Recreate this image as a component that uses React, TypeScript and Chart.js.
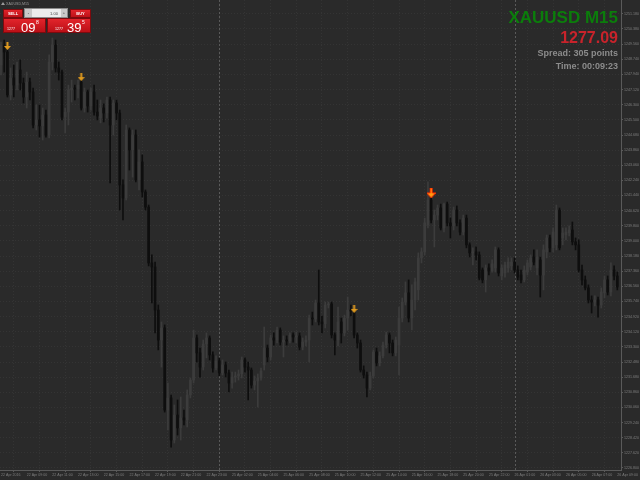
import React, { useEffect, useRef } from "react";
import { Chart, registerables } from "chart.js";

Chart.register(...registerables);

// ---- Data (XAUUSD M15, 193 bars from 22 Apr 07:00 to 26 Apr 09:00) ----
const opens = [
  1248.44, 1249.51, 1249.14, 1246.83, 1247.74, 1247.36, 1248.17, 1247.47, 1246.72, 1247.52,
  1246.99, 1245.22, 1245.49, 1245.17, 1245.75, 1244.68, 1248.60, 1249.51, 1248.28, 1248.06,
  1245.64, 1245.91, 1247.10, 1247.20, 1247.15, 1247.52, 1246.13, 1246.99, 1246.24, 1246.99,
  1245.91, 1245.59, 1246.13, 1245.86, 1246.56, 1245.22, 1246.40, 1245.86, 1242.00, 1241.30,
  1244.95, 1243.88, 1244.68, 1242.27, 1243.23, 1241.62, 1240.81, 1237.81, 1237.59, 1235.28,
  1233.67, 1234.32, 1229.91, 1230.56, 1228.30, 1229.64, 1228.95, 1229.48, 1229.38, 1230.72,
  1231.52, 1233.78, 1232.98, 1232.22, 1233.46, 1233.78, 1232.87, 1232.17, 1232.55, 1231.90,
  1232.33, 1231.90, 1231.36, 1231.68, 1231.74, 1231.85, 1232.60, 1232.22, 1232.06, 1231.25,
  1231.47, 1231.63, 1232.33, 1233.24, 1232.76, 1233.78, 1233.67, 1234.21, 1233.56, 1233.67,
  1233.62, 1233.94, 1233.83, 1233.89, 1233.29, 1233.56, 1233.67, 1234.85, 1234.80, 1235.66,
  1234.64, 1234.54, 1235.55, 1235.61, 1233.94, 1233.67, 1234.64, 1234.05, 1234.85, 1235.28,
  1235.17, 1233.94, 1233.51, 1232.06, 1231.79, 1231.09, 1231.74, 1233.03, 1232.44, 1232.82,
  1233.40, 1233.94, 1233.51, 1232.98, 1233.40, 1234.85, 1235.71, 1236.20, 1234.85, 1235.82,
  1236.36, 1238.08, 1238.40, 1239.85, 1241.19, 1240.12, 1240.38, 1240.76, 1239.69, 1240.97,
  1239.96, 1239.80, 1240.65, 1239.96, 1239.47, 1240.22, 1238.78, 1238.35, 1238.40, 1238.24,
  1237.43, 1236.90, 1237.54, 1237.38, 1237.54, 1238.51, 1237.11, 1237.27, 1237.54, 1237.65,
  1237.86, 1237.43, 1237.16, 1236.90, 1237.32, 1237.59, 1238.13, 1237.54, 1237.97, 1237.16,
  1238.40, 1239.15, 1238.62, 1238.78, 1240.65, 1239.15, 1239.31, 1239.42, 1239.58, 1238.94,
  1238.78, 1237.43, 1236.90, 1236.47, 1235.82, 1235.71, 1235.82, 1235.55, 1236.20, 1236.90,
  1236.25, 1237.43, 1237.11,
];
const highs = [
  1249.67, 1249.78, 1249.25, 1248.28, 1248.44, 1248.60, 1248.71, 1247.74, 1248.06, 1247.74,
  1247.20, 1246.29, 1246.29, 1246.13, 1246.02, 1248.98, 1249.89, 1249.78, 1248.60, 1248.17,
  1246.13, 1247.36, 1247.63, 1247.36, 1247.63, 1247.63, 1247.20, 1247.10, 1247.20, 1247.36,
  1246.56, 1246.56, 1246.35, 1246.72, 1246.72, 1246.56, 1246.56, 1246.02, 1242.27, 1245.22,
  1245.06, 1244.95, 1244.95, 1243.88, 1243.61, 1241.73, 1240.92, 1238.24, 1237.86, 1235.55,
  1234.64, 1234.48, 1231.36, 1230.72, 1230.18, 1230.45, 1230.61, 1229.91, 1230.99, 1231.63,
  1234.21, 1233.94, 1233.24, 1233.67, 1234.05, 1233.89, 1233.03, 1232.82, 1232.71, 1232.60,
  1232.49, 1232.06, 1231.95, 1231.95, 1232.06, 1232.76, 1232.71, 1232.49, 1232.17, 1231.74,
  1231.85, 1232.17, 1234.37, 1233.40, 1233.94, 1234.05, 1234.37, 1234.32, 1233.89, 1233.89,
  1234.05, 1234.05, 1234.10, 1234.05, 1233.78, 1233.89, 1235.01, 1235.17, 1235.82, 1237.43,
  1234.96, 1235.71, 1235.71, 1235.71, 1234.05, 1235.44, 1234.85, 1235.01, 1235.98, 1235.55,
  1235.20, 1234.05, 1233.67, 1232.28, 1231.95, 1231.95, 1233.14, 1233.24, 1233.03, 1233.56,
  1234.10, 1234.05, 1233.67, 1233.83, 1235.44, 1235.93, 1236.79, 1236.90, 1236.63, 1237.00,
  1238.35, 1238.62, 1240.22, 1242.16, 1241.30, 1240.65, 1240.92, 1240.97, 1241.03, 1241.08,
  1240.22, 1240.81, 1240.87, 1240.12, 1240.38, 1240.38, 1238.89, 1238.62, 1238.67, 1238.40,
  1237.54, 1237.70, 1237.76, 1237.97, 1238.67, 1238.62, 1237.70, 1237.86, 1238.08, 1238.08,
  1238.08, 1237.65, 1237.43, 1237.65, 1237.97, 1238.24, 1238.51, 1238.51, 1238.13, 1238.78,
  1239.31, 1239.31, 1239.69, 1240.92, 1240.76, 1239.69, 1239.69, 1239.80, 1240.01, 1239.15,
  1239.05, 1237.70, 1237.11, 1236.63, 1236.04, 1236.04, 1235.98, 1236.47, 1237.11, 1237.11,
  1237.81, 1237.65, 1237.32,
];
const lows = [
  1247.90, 1248.06, 1246.72, 1246.56, 1246.72, 1247.10, 1247.10, 1246.40, 1246.13, 1246.56,
  1245.06, 1244.95, 1244.57, 1244.41, 1244.57, 1244.52, 1248.17, 1248.06, 1247.63, 1245.49,
  1244.79, 1245.22, 1246.45, 1246.56, 1246.67, 1246.02, 1245.91, 1245.91, 1246.02, 1245.75,
  1245.49, 1245.33, 1245.38, 1245.59, 1242.11, 1244.68, 1245.49, 1240.65, 1240.12, 1241.19,
  1242.80, 1242.42, 1242.16, 1241.73, 1241.35, 1240.65, 1237.65, 1235.66, 1234.05, 1233.14,
  1232.22, 1229.80, 1228.84, 1227.92, 1228.14, 1228.57, 1228.30, 1229.11, 1229.00, 1230.56,
  1231.36, 1232.49, 1231.68, 1232.06, 1232.71, 1232.60, 1231.95, 1232.06, 1231.74, 1231.79,
  1231.68, 1230.88, 1231.09, 1231.41, 1231.52, 1231.63, 1231.95, 1230.45, 1231.09, 1230.99,
  1230.07, 1231.52, 1232.06, 1232.49, 1232.60, 1233.40, 1233.51, 1233.40, 1232.76, 1233.40,
  1233.51, 1233.56, 1233.51, 1233.14, 1233.14, 1233.35, 1232.49, 1234.48, 1234.64, 1234.48,
  1234.05, 1234.32, 1235.39, 1233.78, 1232.87, 1233.35, 1233.51, 1233.89, 1234.21, 1234.96,
  1233.78, 1233.24, 1231.95, 1231.63, 1230.61, 1230.99, 1231.63, 1232.28, 1232.28, 1232.71,
  1233.24, 1232.98, 1232.82, 1232.82, 1231.79, 1234.64, 1235.55, 1234.64, 1234.21, 1235.28,
  1235.82, 1237.81, 1238.24, 1239.69, 1239.96, 1238.67, 1240.12, 1239.58, 1239.47, 1239.80,
  1239.15, 1239.58, 1239.80, 1239.31, 1239.31, 1238.62, 1238.13, 1237.70, 1237.97, 1236.90,
  1236.74, 1236.25, 1237.16, 1237.32, 1237.32, 1237.11, 1236.90, 1237.05, 1237.32, 1237.43,
  1237.27, 1236.90, 1236.74, 1236.79, 1237.16, 1237.43, 1237.70, 1237.16, 1235.98, 1236.36,
  1238.08, 1238.40, 1238.40, 1238.51, 1238.51, 1238.78, 1239.05, 1239.26, 1238.78, 1238.51,
  1237.32, 1236.63, 1236.36, 1235.66, 1235.12, 1235.50, 1234.90, 1235.39, 1235.93, 1236.09,
  1236.04, 1236.90, 1236.36,
];
const closes = [
  1249.51, 1249.14, 1246.83, 1247.74, 1247.36, 1248.17, 1247.47, 1246.72, 1247.52, 1246.99,
  1245.22, 1245.49, 1245.17, 1245.75, 1244.68, 1248.60, 1249.51, 1248.28, 1248.06, 1245.64,
  1245.91, 1247.10, 1247.20, 1247.15, 1247.36, 1246.13, 1246.99, 1246.24, 1246.99, 1245.91,
  1245.70, 1246.13, 1245.86, 1246.56, 1245.22, 1246.40, 1245.86, 1242.00, 1241.30, 1244.95,
  1243.88, 1244.68, 1242.27, 1243.23, 1241.62, 1240.81, 1237.81, 1237.59, 1235.28, 1233.67,
  1234.32, 1229.91, 1230.56, 1228.30, 1229.64, 1228.95, 1229.48, 1229.38, 1230.72, 1231.52,
  1233.78, 1232.98, 1232.22, 1233.46, 1233.78, 1232.87, 1232.17, 1232.55, 1231.90, 1232.33,
  1231.90, 1231.36, 1231.68, 1231.74, 1231.85, 1232.60, 1232.22, 1232.06, 1231.25, 1231.47,
  1231.63, 1232.01, 1233.24, 1232.76, 1233.78, 1233.67, 1234.21, 1233.56, 1233.67, 1233.62,
  1233.94, 1233.83, 1233.89, 1233.29, 1233.56, 1233.67, 1234.85, 1234.80, 1235.66, 1234.64,
  1234.54, 1235.55, 1235.61, 1233.94, 1233.67, 1234.64, 1234.05, 1234.85, 1235.28, 1235.23,
  1233.94, 1233.51, 1232.06, 1231.79, 1231.09, 1231.74, 1233.03, 1232.44, 1232.82, 1233.40,
  1233.94, 1233.51, 1232.98, 1233.67, 1234.85, 1235.71, 1236.20, 1234.85, 1235.82, 1236.79,
  1238.08, 1238.40, 1239.96, 1241.19, 1240.12, 1240.38, 1240.76, 1239.69, 1240.97, 1239.96,
  1239.80, 1240.65, 1239.96, 1239.47, 1240.22, 1238.78, 1238.35, 1238.40, 1238.24, 1237.00,
  1236.90, 1237.54, 1237.38, 1237.76, 1238.51, 1237.27, 1237.54, 1237.70, 1237.86, 1237.86,
  1237.43, 1237.05, 1236.90, 1237.43, 1237.81, 1238.08, 1237.86, 1238.13, 1237.16, 1238.51,
  1239.15, 1238.62, 1239.47, 1240.65, 1238.62, 1239.42, 1239.47, 1239.58, 1238.94, 1238.78,
  1237.43, 1236.90, 1236.47, 1235.82, 1235.71, 1235.82, 1235.55, 1236.25, 1236.90, 1236.25,
  1237.43, 1237.11, 1236.52,
];

const timeTickBars = [0, 8, 16, 24, 32, 40, 48, 56, 64, 72, 80, 88, 96, 104, 112, 120, 128, 136, 144, 152, 160, 168, 176, 184, 192];
const timeLabels = [
  "22 Apr 2016", "22 Apr 09:00", "22 Apr 11:00", "22 Apr 13:00", "22 Apr 15:00",
  "22 Apr 17:00", "22 Apr 19:00", "22 Apr 21:00", "22 Apr 23:00", "25 Apr 02:00",
  "25 Apr 04:00", "25 Apr 06:00", "25 Apr 08:00", "25 Apr 10:00", "25 Apr 12:00",
  "25 Apr 14:00", "25 Apr 16:00", "25 Apr 18:00", "25 Apr 20:00", "25 Apr 22:00",
  "26 Apr 01:00", "26 Apr 03:00", "26 Apr 05:00", "26 Apr 07:00", "26 Apr 09:00",
];
const priceTicks = [
  1251.18, 1250.38, 1249.56, 1248.74, 1247.94, 1247.12, 1246.30, 1245.50, 1244.68, 1243.86,
  1243.06, 1242.24, 1241.44, 1240.62, 1239.80, 1239.00, 1238.18, 1237.36, 1236.56, 1235.74,
  1234.92, 1234.12, 1233.30, 1232.48, 1231.68, 1230.86, 1230.06, 1229.24, 1228.42, 1227.62,
  1226.80,
];
const separatorBars = [68, 160];
const signalBars = [2, 25, 110];
const signalPrices = [1249.46, 1247.79, 1235.34];
const strongSignalBars = [134];
const strongSignalPrices = [1241.57];

const symbolText = "XAUUSD M15";
const lastPriceText = "1277.09";
const spreadText = "Spread: 305 points";
const timeText = "Time: 00:09:23";
const panelTitle = "XAUUSD,M15";
const lotText = "1.00";
const sellBig = ["1277", "09", "8"];
const buyBig = ["1277", "39", "5"];

const FONT = "'Liberation Sans', Arial, sans-serif";
const BG = "#2a2a2a";
const BULL = "#3c3c3c";
const BEAR = "#0e0e0e";

function makeArrow(w: number, h: number, fill: string, stroke?: string) {
  const c = document.createElement("canvas");
  c.width = w;
  c.height = h;
  const g = c.getContext("2d")!;
  const cx = w / 2;
  const neck = Math.round(h * 0.45);
  g.beginPath();
  g.moveTo(cx - 1, 0);
  g.lineTo(cx + 1, 0);
  g.lineTo(cx + 1, neck);
  g.lineTo(w, neck);
  g.lineTo(cx, h);
  g.lineTo(0, neck);
  g.lineTo(cx - 1, neck);
  g.closePath();
  g.fillStyle = fill;
  g.fill();
  if (stroke) {
    g.strokeStyle = stroke;
    g.lineWidth = 1;
    g.stroke();
  }
  return c;
}

function redBox(ctx: CanvasRenderingContext2D, x: number, y: number, w: number, h: number) {
  const g = ctx.createLinearGradient(0, y, 0, y + h);
  g.addColorStop(0, "#e5262d");
  g.addColorStop(1, "#b80e15");
  ctx.fillStyle = g;
  ctx.fillRect(x, y, w, h);
  ctx.strokeStyle = "#7d0a0e";
  ctx.lineWidth = 1;
  ctx.strokeRect(x + 0.5, y + 0.5, w - 1, h - 1);
}

const bgPlugin = {
  id: "bgPlugin",
  beforeDraw(chart: any) {
    const { ctx, width, height } = chart;
    ctx.save();
    ctx.fillStyle = BG;
    ctx.fillRect(0, 0, width, height);
    ctx.restore();
  },
};

const separatorPlugin = {
  id: "separatorPlugin",
  beforeDatasetsDraw(chart: any) {
    const { ctx, chartArea, scales } = chart;
    ctx.save();
    ctx.strokeStyle = "#5a5a5a";
    ctx.lineWidth = 1;
    ctx.setLineDash([2, 2]);
    separatorBars.forEach((b) => {
      const x = Math.round(scales.x.getPixelForValue(b)) + 0.5;
      ctx.beginPath();
      ctx.moveTo(x, chartArea.top);
      ctx.lineTo(x, chartArea.bottom);
      ctx.stroke();
    });
    ctx.restore();
  },
};

const overlayPlugin = {
  id: "overlayPlugin",
  afterDraw(chart: any) {
    const ctx: CanvasRenderingContext2D = chart.ctx;
    ctx.save();
    // panel title
    ctx.fillStyle = "#9a9a9a";
    ctx.beginPath();
    ctx.moveTo(1, 5);
    ctx.lineTo(3, 2);
    ctx.lineTo(5, 5);
    ctx.closePath();
    ctx.fill();
    ctx.font = `3.6px ${FONT}`;
    ctx.textBaseline = "alphabetic";
    ctx.textAlign = "left";
    ctx.fillText(panelTitle, 6, 5);

    // SELL / BUY buttons
    redBox(ctx, 3, 9, 20, 9);
    redBox(ctx, 70, 9, 21, 9);
    ctx.fillStyle = "#ffffff";
    ctx.font = `bold 4px ${FONT}`;
    ctx.textAlign = "center";
    ctx.textBaseline = "middle";
    ctx.fillText("SELL", 13, 13.5);
    ctx.fillText("BUY", 80.5, 13.5);

    // lot field
    ctx.fillStyle = "#ececec";
    ctx.fillRect(24, 8, 44, 10);
    ctx.strokeStyle = "#8a8a8a";
    ctx.strokeRect(24.5, 8.5, 43, 9);
    ctx.fillStyle = "#c9c9c9";
    ctx.fillRect(25, 9, 7, 8);
    ctx.fillRect(61, 9, 6, 8);
    ctx.fillStyle = "#444";
    ctx.font = `4px ${FONT}`;
    ctx.fillText("-", 28.5, 13);
    ctx.fillText("+", 64, 13);
    ctx.fillText(lotText, 54, 13.5);

    // big price boxes
    redBox(ctx, 3, 18, 43, 15);
    redBox(ctx, 47, 18, 44, 15);
    ctx.fillStyle = "#ffffff";
    ctx.textAlign = "left";
    ctx.textBaseline = "alphabetic";
    ctx.font = `3.6px ${FONT}`;
    ctx.fillText(sellBig[0], 7, 30);
    ctx.fillText(buyBig[0], 55, 30);
    ctx.font = `13px ${FONT}`;
    ctx.fillText(sellBig[1], 21, 32);
    ctx.fillText(buyBig[1], 67, 32);
    ctx.font = `5px ${FONT}`;
    ctx.fillText(sellBig[2], 36, 24);
    ctx.fillText(buyBig[2], 82, 24);

    // top-right info
    ctx.textAlign = "right";
    ctx.font = `bold 17px ${FONT}`;
    ctx.fillStyle = "#0b7d0b";
    ctx.fillText(symbolText, 618, 23);
    ctx.font = `bold 16px ${FONT}`;
    ctx.fillStyle = "#c8232b";
    ctx.fillText(lastPriceText, 618, 43);
    ctx.font = `bold 9px ${FONT}`;
    ctx.fillStyle = "#8c8c8c";
    ctx.fillText(spreadText, 618, 55.5);
    ctx.fillText(timeText, 618, 68.5);
    ctx.restore();
  },
};

export default function App() {
  const ref = useRef<HTMLCanvasElement | null>(null);

  useEffect(() => {
    document.body.style.margin = "0";
    document.body.style.background = BG;
    const canvas = ref.current;
    if (!canvas) return;

    const wickData = highs.map((h, i) => ({ x: i, y: [lows[i], h] }));
    const bodyData = opens.map((o, i) => ({ x: i, y: [o, closes[i]] }));
    const colors = opens.map((o, i) => (closes[i] >= o ? BULL : BEAR));
    const signalData = signalBars.map((b, i) => ({ x: b, y: signalPrices[i] }));
    const strongData = strongSignalBars.map((b, i) => ({ x: b, y: strongSignalPrices[i] }));

    const smallArrow = makeArrow(7, 8, "#e09a1e");
    const bigArrow = makeArrow(9, 10, "#ff9a10", "#ff2a00");

    const gridColor = "#343434";
    const axisColor = "#5a5a5a";
    const tickFont = { size: 3.6, family: FONT };

    const chart = new Chart(canvas, {
      type: "bar",
      data: {
        datasets: [
          {
            type: "bar",
            label: "wicks",
            data: wickData as any,
            backgroundColor: colors,
            barThickness: 1,
            grouped: false,
            borderWidth: 0,
            order: 3,
          } as any,
          {
            type: "bar",
            label: "bodies",
            data: bodyData as any,
            backgroundColor: colors,
            barThickness: 2,
            grouped: false,
            borderWidth: 0,
            minBarLength: 1,
            order: 2,
          } as any,
          {
            type: "scatter",
            label: "signals",
            data: signalData,
            pointStyle: smallArrow,
            pointRadius: 4,
            order: 1,
          } as any,
          {
            type: "scatter",
            label: "strong",
            data: strongData,
            pointStyle: bigArrow,
            pointRadius: 5,
            order: 0,
          } as any,
        ],
      },
      options: {
        responsive: false,
        animation: false,
        events: [],
        layout: { padding: 0, autoPadding: false },
        plugins: {
          legend: { display: false },
          tooltip: { enabled: false },
          title: { display: false },
        },
        scales: {
          x: {
            type: "linear",
            position: "bottom",
            min: -0.31,
            max: 193.15,
            offset: false,
            afterBuildTicks: (s: any) => {
              s.ticks = timeTickBars.map((v) => ({ value: v }));
            },
            afterFit: (s: any) => {
              s.height = 10;
              s.paddingLeft = 0;
              s.paddingRight = 0;
            },
            ticks: {
              callback: (_v: any, i: number) => timeLabels[i],
              font: tickFont,
              color: "#7e7e7e",
              align: "start",
              padding: 1,
              maxRotation: 0,
              minRotation: 0,
              autoSkip: false,
            },
            grid: {
              color: gridColor,
              tickColor: axisColor,
              tickLength: 2,
            },
            border: { display: true, color: axisColor, dash: [1, 2] },
          },
          y: {
            type: "linear",
            position: "right",
            min: 1226.69,
            max: 1251.93,
            afterBuildTicks: (s: any) => {
              s.ticks = priceTicks.map((v) => ({ value: v }));
            },
            afterFit: (s: any) => {
              s.width = 19;
              s.paddingTop = 0;
              s.paddingBottom = 0;
            },
            ticks: {
              callback: (v: any) => Number(v).toFixed(3),
              font: tickFont,
              color: "#7e7e7e",
              padding: 1,
              autoSkip: false,
            },
            grid: {
              color: gridColor,
              tickColor: axisColor,
              tickLength: 2,
            },
            border: { display: true, color: axisColor, dash: [1, 2] },
          },
        },
      } as any,
      plugins: [bgPlugin, separatorPlugin, overlayPlugin],
    });

    return () => chart.destroy();
  }, []);

  return <canvas ref={ref} width={640} height={480} style={{ display: "block" }} />;
}
